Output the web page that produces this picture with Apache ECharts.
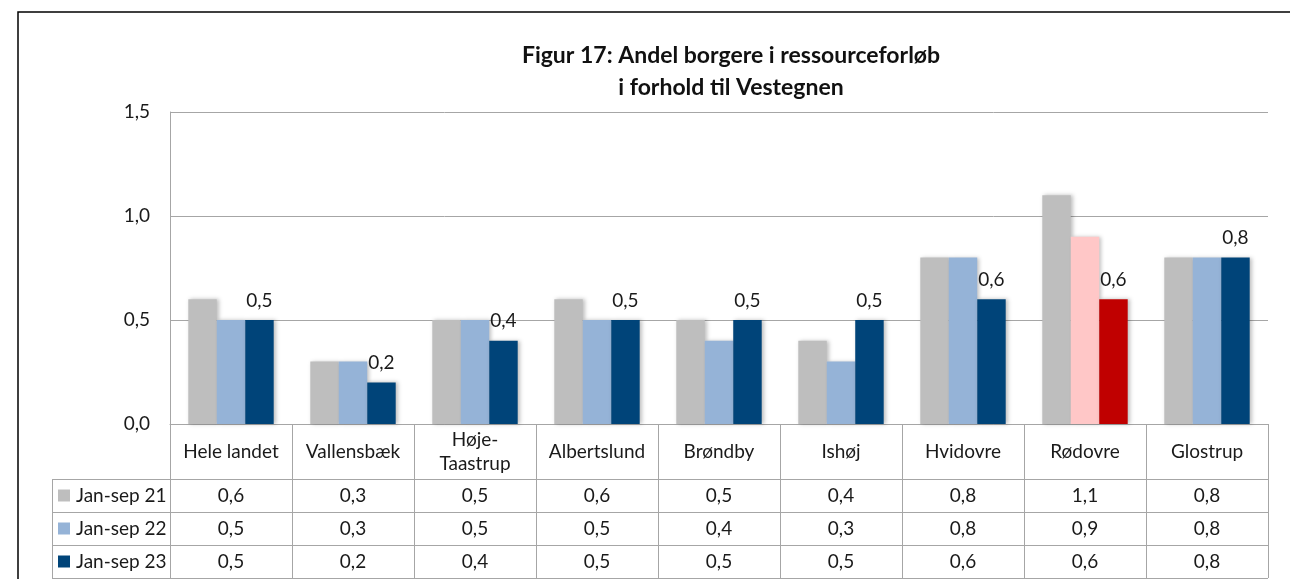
<!DOCTYPE html>
<html>
<head>
<meta charset="utf-8">
<script src="https://cdn.jsdelivr.net/npm/echarts@6/dist/echarts.min.js"></script>
<style>
  html, body { margin: 0; padding: 0; background: #fff; }
  #chart { width: 1290px; height: 579px; }
</style>
</head>
<body>
<div id="chart"></div>
<script>
// kommuner
var categories = ['Hele landet', 'Vallensbæk', 'Høje-Taastrup', 'Albertslund', 'Brøndby', 'Ishøj', 'Hvidovre', 'Rødovre', 'Glostrup'];
var seriesNames = ['Jan-sep 21', 'Jan-sep 22', 'Jan-sep 23'];
var jan21 = [0.6, 0.3, 0.5, 0.6, 0.5, 0.4, 0.8, 1.1, 0.8];
var jan22 = [0.5, 0.3, 0.5, 0.5, 0.4, 0.3, 0.8, 0.9, 0.8];
var jan23 = [0.5, 0.2, 0.4, 0.5, 0.5, 0.5, 0.6, 0.6, 0.8];
var yTicks = [0, 0.5, 1.0, 1.5];
var highlight = 'Rødovre';

var colors = ['#BEBEBE', '#95B3D7', '#004479'];
var hlColors = ['#BEBEBE', '#FFC7C7', '#C00000'];
var font = 'Lato';
var fs = 19;
var gridColor = '#A6A6A6';

function fmt(v) {
  return v.toFixed(1).replace('.', ',');
}

var allData = [jan21, jan22, jan23];

var chart = echarts.init(document.getElementById('chart'));

var series = allData.map(function (arr, i) {
  return {
    name: seriesNames[i],
    type: 'bar',
    barGap: '0%',
    barCategoryGap: '30%',
    data: arr.map(function (v, j) {
      var item = { value: v };
      if (categories[j] === highlight) {
        item.itemStyle = { color: hlColors[i] };
      }
      return item;
    }),
    itemStyle: {
      color: colors[i],
      shadowBlur: 4,
      shadowColor: 'rgba(0,0,0,0.25)',
      shadowOffsetX: 2
    },
    label: {
      show: i === 2,
      position: 'top',
      distance: 10,
      fontFamily: font,
      fontSize: fs,
      color: '#1a1a1a',
      formatter: function (p) { return fmt(p.value); }
    }
  };
});

chart.setOption({
  animation: false,
  title: {
    text: 'Figur 17: Andel borgere i ressourceforløb\ni forhold til Vestegnen',
    left: 726,
    top: 35,
    textAlign: 'center',
    textStyle: {
      fontFamily: font,
      fontSize: 23,
      fontWeight: 'bold',
      color: '#111',
      lineHeight: 32
    }
  },
  grid: { left: 170, right: 22, top: 112, bottom: 155 },
  xAxis: {
    type: 'category',
    data: categories,
    axisLine: { lineStyle: { color: gridColor } },
    axisTick: { show: false },
    axisLabel: {
      interval: 0,
      margin: 28,
      verticalAlign: 'middle',
      lineHeight: 24,
      fontFamily: font,
      fontSize: fs,
      color: '#1a1a1a',
      formatter: function (v) { return v.replace('-', '-\n'); }
    }
  },
  yAxis: {
    type: 'value',
    min: yTicks[0],
    max: yTicks[yTicks.length - 1],
    interval: 0.5,
    axisLine: { show: true, lineStyle: { color: gridColor } },
    axisTick: { show: false },
    splitLine: { lineStyle: { color: gridColor } },
    axisLabel: {
      margin: 20,
      fontFamily: font,
      fontSize: fs,
      color: '#1a1a1a',
      formatter: function (v) { return fmt(v); }
    }
  },
  series: series
});

// datatabel under akserne
var x0 = chart.convertToPixel({ xAxisIndex: 0 }, 0);
var catW = chart.convertToPixel({ xAxisIndex: 0 }, 1) - x0;
var tLeft = x0 - catW / 2;
var tRight = tLeft + catW * categories.length;
var yBase = chart.convertToPixel({ yAxisIndex: 0 }, 0);
var headH = 55, rowH = 33, legLeft = 52;
var rowTop = yBase + headH;
var tBottom = rowTop + rowH * allData.length;

var g = [];
function line(x1, y1, x2, y2) {
  g.push({ type: 'line', silent: true, shape: { x1: x1, y1: y1, x2: x2, y2: y2 }, style: { stroke: gridColor, lineWidth: 1 } });
}
for (var k = 0; k <= categories.length; k++) {
  var xx = Math.round(tLeft + catW * k) + 0.5;
  line(xx, yBase, xx, tBottom);
}
line(legLeft + 0.5, rowTop, legLeft + 0.5, tBottom);
for (var r = 0; r <= allData.length; r++) {
  var yy = Math.round(rowTop + rowH * r) + 0.5;
  line(legLeft, yy, tRight, yy);
}
allData.forEach(function (arr, i) {
  var cy = rowTop + rowH * i + rowH / 2;
  g.push({ type: 'rect', shape: { x: legLeft + 6, y: cy - 6, width: 12, height: 12 }, style: { fill: colors[i] } });
  g.push({ type: 'text', x: legLeft + 24, y: cy, style: { text: seriesNames[i], fontFamily: font, fontSize: fs, fill: '#1a1a1a', align: 'left', verticalAlign: 'middle' } });
  arr.forEach(function (v, j) {
    g.push({ type: 'text', x: x0 + catW * j, y: cy, style: { text: fmt(v), fontFamily: font, fontSize: fs, fill: '#1a1a1a', align: 'center', verticalAlign: 'middle' } });
  });
});
// ramme om diagrammet
g.push({ type: 'rect', silent: true, z: -1, shape: { x: 18, y: 12, width: 1400, height: 700 }, style: { fill: 'none', stroke: '#000', lineWidth: 1.5 } });

chart.setOption({ graphic: g });
</script>
</body>
</html>
